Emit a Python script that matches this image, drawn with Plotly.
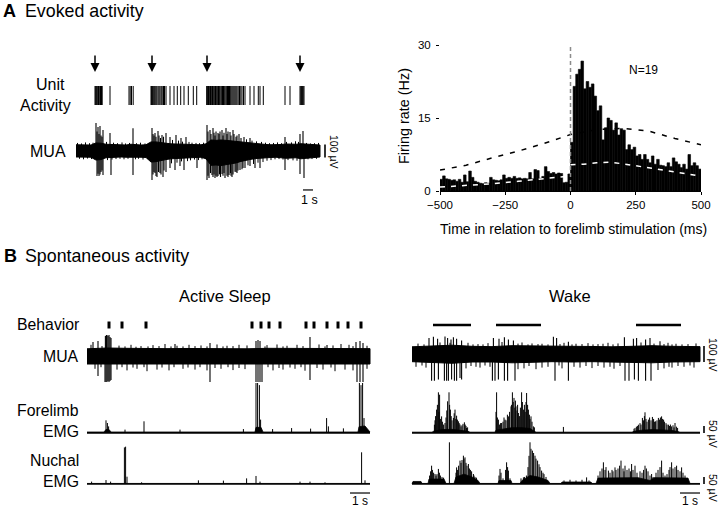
import plotly.graph_objects as go

FONT = "Liberation Sans, Arial, sans-serif"
W, H = 720, 508

# ======================= DATA =======================
# ---- Panel A: evoked activity (time in s, amplitude in uV) ----
stim_times_A = [1.9, 7.6, 13.1, 22.4]
unit_spikes_A = [1.90, 1.97, 2.03, 2.10, 2.18, 2.25, 2.33, 2.45, 2.55, 2.62, 3.40,
                 5.30, 5.42, 5.55, 5.72,
                 7.50, 7.56, 7.64, 7.72, 7.80, 7.88, 7.98, 8.08, 8.20, 8.30, 8.40, 8.52,
                 8.62, 8.75, 8.85, 9.00, 9.40, 9.80, 10.13, 10.47, 10.80, 11.23, 11.73, 12.07,
                 13.07, 13.12, 13.18, 13.25, 13.30, 13.38, 13.45, 13.50, 13.58, 13.65, 13.72,
                 13.80, 13.88, 13.95, 14.02, 14.10, 14.18, 14.25, 14.33, 14.40, 14.50, 14.58,
                 14.65, 14.75, 14.82, 14.90, 15.00, 15.08, 15.15, 15.25, 15.35, 15.42, 15.50,
                 15.60, 15.70, 15.80, 15.90, 16.00, 16.10, 16.22, 16.35, 16.48, 16.60, 16.75,
                 16.90, 17.40, 17.80, 18.23, 18.40, 18.73,
                 20.90, 21.40, 22.40, 22.48, 22.56, 22.64, 22.72, 22.80]
muaA_env_t = [0, 0.5, 1.0, 1.5, 2.0, 2.5, 3.0, 3.5, 4.0, 4.5, 5.0, 5.5, 6.0, 6.5, 7.0, 7.5,
              8.0, 8.5, 9.0, 9.5, 10.0, 10.5, 11.0, 11.5, 12.0, 12.5, 13.0, 13.5, 14.0, 14.5,
              15.0, 15.5, 16.0, 16.5, 17.0, 17.5, 18.0, 18.5, 19.0, 19.5, 20.0, 20.5, 21.0,
              21.5, 22.0, 22.5, 23.0, 23.5, 24.0, 24.4]
muaA_env_top = [48, 46, 48, 46, 62, 60, 52, 50, 46, 48, 46, 52, 48, 46, 48, 70, 70, 64, 58, 55,
                54, 55, 52, 50, 48, 48, 55, 85, 82, 85, 82, 78, 74, 68, 62, 58, 55, 52, 50,
                48, 48, 50, 54, 52, 52, 56, 52, 48, 48, 46]
muaA_env_bot = [46, 48, 46, 48, 70, 66, 52, 50, 48, 46, 48, 52, 48, 48, 50, 85, 82, 76, 66,
                60, 56, 58, 55, 52, 50, 48, 60, 110, 108, 112, 108, 100, 92, 80, 70, 64, 58,
                54, 52, 50, 48, 52, 56, 54, 52, 60, 54, 50, 48, 46]
muaA_spike_t = [2.0, 2.1, 2.2, 2.3, 2.4, 2.5, 2.6, 2.7, 3.4, 5.7, 7.6, 7.7, 7.8, 7.9, 8.0,
                8.2, 8.3, 8.45, 8.6, 8.75, 9.0, 9.4, 10.0, 10.5, 11.0,
                13.1, 13.2, 13.4, 13.5, 13.7, 13.8, 13.9, 14.0, 14.2, 14.3, 14.4, 14.6, 14.7,
                14.8, 15.0, 15.1, 15.2, 15.4, 15.5, 15.7, 15.8, 16.0, 16.1, 16.3, 16.5, 16.8,
                17.4, 20.9, 22.4, 22.7,
                2.1, 2.2, 2.3, 2.4, 2.5, 2.6, 2.7, 3.5, 5.7, 7.6, 7.7, 7.8, 7.9, 8.0, 8.1,
                8.25, 8.4, 8.5, 8.7, 8.8, 9.0, 9.4, 9.9, 10.4, 10.8, 12.1,
                13.1, 13.2, 13.3, 13.45, 13.6, 13.7, 13.8, 13.9, 14.0, 14.1, 14.2, 14.35,
                14.45, 14.6, 14.7, 14.8, 14.9, 15.1, 15.2, 15.3, 15.45, 15.5, 15.6, 15.7,
                15.9, 16.0, 16.1, 16.2, 16.4, 16.6, 16.7, 16.9, 17.4, 17.9, 18.4, 20.9, 22.4,
                22.8]
muaA_spike_amp = [216, 150, 185, 130, 193, 120, 110, 162, 139, 175, 177, 130, 120, 139, 110,
                  154, 120, 100, 123, 110, 139, 108, 123, 100, 108,
                  200, 150, 162, 130, 177, 140, 120, 150, 139, 130, 150, 162, 120, 140, 177,
                  130, 150, 146, 120, 162, 130, 110, 120, 131, 100, 108, 100, 108, 131, 154,
                  -193, -175, -193, -180, -162, -150, -185, -185, -185, -223, -180, -162,
                  -170, -193, -200, -162, -170, -180, -200, -150, -162, -131, -146, -116,
                  -146, -131,
                  -223, -190, -208, -170, -185, -200, -180, -208, -190, -200, -193, -180,
                  -200, -177, -190, -170, -208, -190, -200, -185, -170, -190, -200, -180,
                  -160, -162, -170, -150, -146, -140, -130, -131, -116, -131, -131, -146,
                  -177, -208]
muaA_hair_t = [0.15, 0.55, 0.95, 1.35, 1.7, 3.05, 3.75, 4.15, 4.6, 4.95, 5.35, 6.05, 6.45,
               6.9, 7.3, 9.65, 10.25, 10.65, 11.3, 11.6, 12.0, 12.35, 12.75, 17.05, 17.6,
               18.05, 18.55, 18.95, 19.35, 19.75, 20.15, 20.55, 21.05, 21.55, 21.95, 22.25,
               23.05, 23.45, 23.85, 24.25,
               0.35, 0.75, 1.15, 1.55, 3.15, 3.6, 4.0, 4.4, 4.8, 5.2, 5.95, 6.25, 6.7, 7.15,
               9.55, 10.1, 10.55, 11.15, 11.45, 11.85, 12.25, 12.6, 12.95, 17.2, 17.75, 18.2,
               18.7, 19.1, 19.5, 19.9, 20.3, 20.7, 21.2, 21.7, 22.1, 23.2, 23.6, 24.05]
muaA_hair_amp = [62, 58, 66, 60, 64, 70, 64, 60, 66, 58, 62, 60, 64, 58, 62, 85, 80, 72, 70,
                 64, 62, 60, 64, 90, 80, 74, 70, 64, 60, 62, 66, 60, 70, 66, 75, 70, 62, 58,
                 60, 62,
                 -60, -64, -58, -62, -70, -66, -62, -60, -64, -60, -64, -60, -66, -62, -95,
                 -90, -80, -78, -72, -66, -70, -64, -62, -110, -100, -90, -85, -75, -70, -64,
                 -62, -66, -70, -72, -75, -64, -62, -60]

# ---- Panel A: peri-stimulus histogram (ms, Hz) ----
psth_bin_start = list(range(-500, 500, 10))
psth_rate = [2.4, 3.1, 2.5, 2.4, 2.2, 2.3, 2.0, 2.4, 1.8, 3.3, 1.9, 4.1, 2.8, 2.0, 1.8, 1.6,
             1.5, 1.7, 1.6, 2.8, 2.3, 2.2, 2.1, 2.3, 3.3, 2.6, 2.8, 2.6, 3.0, 2.6, 2.7, 2.5,
             2.6, 2.5, 3.8, 2.5, 4.4, 4.2, 2.6, 3.0, 5.0, 4.0, 3.6, 3.8, 3.5, 3.7, 3.6, 1.7,
             1.8, 3.5,
             10.0, 21.5, 24.0, 25.0, 26.7, 21.0, 22.5, 21.3, 22.0, 19.5, 16.5, 17.5, 10.5,
             13.0, 15.0, 14.5, 12.5, 14.0, 11.5, 12.8, 12.5, 8.5, 9.5, 8.5, 9.0, 7.2, 7.5,
             6.5, 7.5, 6.5, 5.8, 7.2, 5.5, 6.5, 5.3, 5.2, 5.0, 5.8, 5.0, 6.8, 6.0, 5.5, 4.8,
             5.5, 4.5, 7.5, 5.2, 5.8, 5.2, 4.5]
upper_t = [-500, -400, -300, -200, -100, 0, 100, 200, 300, 400, 500]
upper_rate = [4.3, 5.3, 6.8, 8.2, 9.8, 11.6, 12.6, 12.9, 12.3, 10.8, 9.5]
lower_left_t = [-500, -400, -300, -200, -100, 0]
lower_left_rate = [0.8, 1.1, 1.5, 2.0, 2.6, 3.1]
lower_right_t = [0, 50, 100, 150, 200, 250, 300, 350, 400, 450, 500]
lower_right_rate = [5.4, 5.5, 5.8, 5.9, 5.6, 5.2, 4.7, 4.3, 3.9, 3.5, 3.0]
x_ticks_ms = [-500, -250, 0, 250, 500]
y_ticks_hz = [0, 15, 30]

# ---- Panel B: Active sleep ----
as_end = 14.15
as_behavior_t = [1.1, 1.75, 2.95, 8.25, 8.7, 9.1, 9.65, 10.95, 11.35, 12.0, 12.55, 13.05, 13.7]
as_mua_env_t = [0, 1, 2, 3, 4, 5, 6, 7, 8, 9, 10, 11, 12, 13, 14, 14.15]
as_mua_env_top = [45, 50, 48, 45, 46, 47, 45, 46, 45, 48, 47, 46, 48, 47, 46, 46]
as_mua_env_bot = [50, 52, 50, 48, 50, 50, 48, 50, 48, 52, 50, 50, 52, 50, 50, 50]
as_mua_spike_t = [0.3, 0.55, 0.92, 0.97, 1.0, 1.05, 1.1, 1.15, 1.2, 4.4, 6.15, 8.45, 8.55,
                  8.65, 11.15, 12.0, 13.45, 13.65, 13.8,
                  0.55, 0.9, 0.95, 1.0, 1.05, 1.1, 1.15, 1.2, 6.15, 8.45, 8.55, 8.65, 8.75,
                  11.15, 13.5, 13.65, 13.8]
as_mua_spike_amp = [88, 94, 125, 131, 131, 125, 131, 119, 112, 75, 81, 94, 100, 94, 119, 69,
                    88, 94, 81,
                    -125, -162, -162, -162, -156, -162, -156, -150, -162, -162, -162, -162,
                    -162, -150, -162, -162, -162]
as_mua_hair_t = [0.2, 0.75, 1.6, 1.9, 2.2, 2.45, 2.7, 3.05, 3.3, 3.6, 3.9, 4.2, 4.5, 4.8,
                 5.1, 5.4, 5.7, 6.0, 6.5, 6.8, 7.0, 7.3, 7.6, 8.0, 8.9, 9.0, 9.5, 9.8, 10.0,
                 10.5, 10.8, 11.6, 11.9, 12.3, 12.7, 13.1, 13.3, 14.0,
                 0.4, 0.7, 1.5, 1.75, 2.0, 2.3, 2.5, 2.85, 3.0, 3.5, 3.75, 4.1, 4.35, 4.8,
                 5.05, 5.4, 5.65, 6.0, 6.4, 6.7, 7.05, 7.3, 7.6, 7.9, 9.05, 9.3, 9.6, 9.8,
                 10.15, 10.4, 10.7, 10.9, 11.5, 11.8, 12.2, 12.4, 12.9, 13.3, 14.0]
as_mua_hair_amp = [70, 62, 65, 60, 70, 58, 62, 60, 68, 62, 75, 60, 64, 60, 70, 62, 66, 60, 72,
                   60, 64, 62, 70, 66, 60, 68, 72, 60, 64, 70, 62, 72, 60, 66, 75, 70, 62, 64,
                   -80, -70, -85, -70, -90, -72, -80, -70, -95, -85, -72, -90, -70, -80,
                   -72, -85, -70, -90, -75, -80, -70, -88, -75, -82, -70, -90, -75, -85,
                   -72, -80, -70, -92, -75, -85, -72, -95, -85, -90, -80]
as_fore_env_t = [0, 0.85, 0.95, 1.1, 1.2, 8.4, 8.45, 8.7, 8.8, 13.55, 13.6, 13.9, 14.15]
as_fore_env = [7, 7, 25, 25, 7, 7, 40, 40, 7, 7, 45, 50, 7]
as_fore_spike_t = [0.95, 1.02, 1.08, 1.9, 2.85, 4.65, 7.82, 8.45, 8.53, 8.62, 8.68, 9.28,
                   10.23, 11.18, 11.98, 12.07, 12.82, 13.62, 13.7, 13.78, 13.85]
as_fore_spike_amp = [90, 71, 47, 24, 83, 24, 28, 355, 355, 340, 95, 28, 35, 31, 106, 47, 33,
                     355, 340, 355, 106]
as_nuch_spike_t = [0.23, 0.95, 1.18, 1.87, 1.93, 2.0, 2.73, 5.57, 6.82, 7.98, 8.45, 8.65,
                   10.65, 11.15, 11.9, 13.73, 13.9]
as_nuch_spike_amp = [17, 28, 17, 260, 265, 52, 12, 26, 24, 40, 57, 17, 17, 17, 12, 225, 26]

# ---- Panel B: Wake ----
wk_end = 14.4
wk_behavior_on = [1.05, 4.2, 11.2]
wk_behavior_off = [2.95, 6.45, 13.45]
wk_mua_env_t = [0, 1, 2, 3, 4, 5, 6, 7, 8, 9, 10, 11, 12, 13, 14, 14.4]
wk_mua_env_top = [45, 50, 55, 48, 46, 52, 50, 46, 48, 47, 45, 48, 52, 48, 46, 46]
wk_mua_env_bot = [48, 55, 58, 50, 50, 55, 52, 48, 50, 48, 48, 52, 55, 50, 48, 48]
wk_mua_spike_t = [0.98, 1.12, 1.32, 1.62, 1.73, 1.82, 1.98, 2.12, 2.23, 2.40, 2.48, 4.02,
                  4.15, 4.32, 4.62, 4.78, 5.15, 7.15, 7.82, 10.65, 10.85, 11.12, 11.32, 11.68,
                  11.95,
                  0.85, 1.07, 1.28, 1.65, 1.78, 1.95, 2.07, 2.23, 2.48, 4.07, 4.35, 4.62, 4.82,
                  5.07, 7.07, 7.23, 7.82, 10.62, 11.07, 11.23, 11.68, 11.90, 12.40]
wk_mua_spike_amp = [-167, -167, -160, -167, -167, -167, -160, -167, -167, -150, -160, -167,
                    -167, -160, -167, -167, -167, -167, -167, -167, -167, -160, -167, -167,
                    -167,
                    100, 108, 95, 110, 100, 90, 105, 95, 85, 100, 95, 105, 90, 85, 108, 100,
                    77, 105, 95, 100, 90, 100, 80]
wk_mua_hair_t = [0.3, 0.6, 1.4, 1.9, 2.8, 3.05, 3.3, 3.55, 3.8, 4.5, 5.3, 5.5, 5.8, 6.0, 6.3,
                 6.5, 6.8, 7.4, 7.6, 8.0, 8.2, 8.5, 8.8, 9.05, 9.3, 9.55, 9.8, 10.05, 10.3,
                 11.45, 12.1, 12.6, 12.8, 13.0, 13.2, 13.5, 13.8, 14.2,
                 0.2, 0.5, 0.7, 2.7, 2.95, 3.2, 3.4, 3.65, 3.9, 5.3, 5.6, 5.85, 6.2, 6.5, 6.8,
                 7.35, 7.5, 8.1, 8.4, 8.7, 9.0, 9.3, 9.6, 9.9, 10.1, 10.4, 12.3, 12.6, 12.85,
                 13.0, 13.3, 13.6, 13.9, 14.1]
wk_mua_hair_amp = [65, 60, 72, 70, 70, 60, 62, 60, 68, 75, 65, 72, 60, 66, 62, 64, 60, 62,
                   70, 60, 64, 62, 68, 60, 62, 64, 70, 60, 66, 72, 65, 62, 70, 60, 64, 60, 62,
                   66,
                   -80, -72, -85, -90, -75, -80, -85, -72, -80, -95, -90, -75, -95, -85,
                   -80, -72, -90, -80, -85, -75, -88, -75, -85, -80, -92, -75, -100, -90,
                   -80, -85, -75, -80, -72, -85]
wk_fore_env_t = [0, 1.0, 1.1, 1.5, 2.0, 2.5, 2.8, 2.9, 4.15, 4.2, 4.6, 5.0, 5.5, 5.9, 6.1,
                 6.2, 11.0, 11.1, 11.5, 12.0, 12.5, 13.0, 13.3, 13.4, 14.4]
wk_fore_env = [6, 6, 14, 24, 26, 20, 12, 6, 6, 20, 30, 38, 38, 32, 14, 6, 6, 12, 20, 24, 22,
               18, 10, 6, 6]
wk_fore_spike_t = [1.12, 1.15, 1.18, 1.23, 1.27, 1.32, 1.35, 1.38, 1.42, 1.48, 1.52, 1.58,
                   1.65, 1.70, 1.74, 1.78, 1.85, 1.88, 1.92, 1.96, 2.00, 2.07, 2.11, 2.15,
                   2.19, 2.23, 2.27, 2.32, 2.36, 2.40, 2.45, 2.50, 2.55, 2.62, 2.66, 2.70,
                   2.73, 2.78,
                   4.20, 4.23, 4.27, 4.32, 4.38, 4.43, 4.48, 4.55, 4.60, 4.65, 4.70, 4.77,
                   4.82, 4.88, 4.95, 4.98, 5.02, 5.06, 5.10, 5.14, 5.17, 5.20, 5.25, 5.28,
                   5.32, 5.37, 5.42, 5.48, 5.52, 5.58, 5.62, 5.66, 5.70, 5.73, 5.78, 5.82,
                   5.87, 5.90, 5.95, 6.00, 6.07, 6.12, 7.57,
                   11.10, 11.15, 11.22, 11.28, 11.32, 11.40, 11.45, 11.52, 11.58, 11.62,
                   11.65, 11.70, 11.75, 11.82, 11.88, 11.95, 12.02, 12.08, 12.12, 12.18,
                   12.25, 12.32, 12.38, 12.42, 12.48, 12.52, 12.58, 12.62, 12.70, 12.75,
                   12.82, 12.88, 12.92, 12.98, 13.05, 13.10, 13.15, 13.22, 13.28]
wk_fore_spike_amp = [59, 90, 120, 166, 200, 289, 150, 272, 100, 118, 80, 60, 71, 110, 160,
                     225, 289, 200, 166, 120, 90, 107, 140, 166, 100, 123, 95, 83, 70, 60, 47,
                     55, 65, 76, 60, 50, 36, 40,
                     150, 289, 110, 95, 60, 70, 71, 80, 110, 95, 90, 130, 118, 150, 189, 200,
                     289, 220, 249, 180, 230, 189, 160, 200, 142, 120, 180, 289, 220, 166,
                     200, 150, 220, 284, 200, 166, 130, 100, 118, 80, 47, 40, 43,
                     30, 36, 45, 50, 59, 70, 60, 107, 90, 120, 147, 100, 80, 95, 110, 90, 114,
                     100, 80, 83, 90, 107, 95, 110, 118, 100, 95, 80, 70, 60, 59, 50, 60, 47,
                     55, 40, 71, 45, 36]
wk_nuch_env_t = [0, 0.05, 0.45, 0.5, 0.8, 0.85, 1.6, 1.7, 2.1, 2.2, 2.6, 3.0, 3.3, 3.4, 4.3,
                 4.35, 4.95, 5.0, 5.4, 5.5, 5.9, 6.3, 6.8, 6.9, 7.45, 7.5, 8.95, 9.0, 9.2,
                 9.3, 11.3, 11.9, 12.1, 13.8, 13.9, 14.4]
wk_nuch_env = [4, 18, 18, 4, 4, 35, 35, 4, 4, 50, 70, 50, 25, 4, 4, 25, 25, 4, 4, 25, 60, 50,
               25, 4, 4, 14, 14, 4, 4, 42, 45, 25, 45, 42, 4, 4]
wk_nuch_spike_t = [0.88, 0.93, 0.98, 1.02, 1.08, 1.15, 1.20, 1.25, 1.32, 1.37, 1.42, 1.50,
                   1.58, 1.87,
                   2.20, 2.23, 2.28, 2.33, 2.40, 2.45, 2.50, 2.57, 2.60, 2.65, 2.70, 2.75,
                   2.82, 2.87, 2.92, 2.98, 3.07, 3.10, 3.15, 3.22,
                   4.35, 4.40, 4.45, 4.55, 4.68, 4.73, 4.78, 4.82, 4.90,
                   5.45, 5.57, 5.62, 5.72, 5.80, 5.85, 5.90, 5.95, 6.02, 6.08, 6.15, 6.20,
                   6.28, 6.35, 6.40, 6.48, 6.55, 6.60, 6.70,
                   7.60, 7.90, 8.20, 8.50, 8.73, 8.85,
                   9.30, 9.40, 9.50, 9.57, 9.65, 9.70, 9.82, 9.90, 10.00, 10.05, 10.15,
                   10.20, 10.30, 10.38, 10.45, 10.55, 10.60, 10.65, 10.75, 10.85, 10.92,
                   10.98, 11.05, 11.15, 11.25, 11.40, 11.50, 11.58, 11.65, 11.72, 11.80,
                   11.90, 11.98, 12.05, 12.20, 12.30, 12.40, 12.48, 12.55, 12.65, 12.75,
                   12.85, 12.90, 12.98, 13.05, 13.15, 13.23, 13.30, 13.40, 13.48, 13.55,
                   13.65, 13.75]
wk_nuch_spike_amp = [60, 90, 130, 100, 80, 71, 60, 70, 107, 80, 60, 50, 45, 296,
                     80, 118, 100, 130, 166, 150, 170, 201, 180, 189, 150, 130, 142, 110, 100,
                     90, 71, 60, 50, 45,
                     60, 107, 80, 40, 100, 154, 120, 95, 40,
                     40, 47, 50, 60, 120, 200, 296, 250, 237, 220, 201, 180, 166, 140, 120, 95,
                     80, 70, 50,
                     25, 30, 25, 30, 47, 25,
                     60, 90, 110, 154, 100, 120, 95, 80, 100, 90, 118, 100, 110, 130, 166,
                     110, 90, 130, 100, 110, 90, 142, 100, 130, 80, 90, 80, 100, 130, 110, 90,
                     60, 71, 50, 80, 100, 120, 166, 80, 60, 70, 100, 120, 154, 110, 120, 130,
                     100, 90, 118, 80, 60, 40]

scale_mua_uv = 100
scale_emg_uv = 50
scale_time_s = 1

# ======================= GEOMETRY HELPERS =======================
def xd(p0, p1):
    return [p0 / W, p1 / W]


def yd(p0, p1):
    return [1 - p1 / H, 1 - p0 / H]


def xr(p0, p1, zero, ppu):
    return [(p0 - zero) / ppu, (p1 - zero) / ppu]


def yr(p0, p1, zero, ppu):
    return [(zero - p1) / ppu, (zero - p0) / ppu]


def vlines(ts, amps, base=0.0):
    xs, ys = [], []
    for t, a in zip(ts, amps):
        xs += [t, t, None]
        ys += [base, a, None]
    return xs, ys


def band(ts, top, bot):
    return ts + ts[::-1], top + [-b for b in bot[::-1]]


fig = go.Figure()
layout = dict(template="none", width=W, height=H,
              margin=dict(l=0, r=0, t=0, b=0, pad=0, autoexpand=False),
              paper_bgcolor="white", plot_bgcolor="rgba(0,0,0,0)", showlegend=False,
              font=dict(family=FONT, color="black"))

UA = 1 / 7.7      # px per uV, panel A MUA
UB = 1 / 6.25     # px per uV, panel B MUA
UE = 1 / 7.1      # px per uV, EMG
axes = {
    1: (xd(70, 345), xr(70, 345, 76, 10), yd(86, 105), [0, 1]),
    2: (xd(70, 345), xr(70, 345, 76, 10), yd(108, 200), yr(108, 200, 151, UA)),
    4: (xd(85, 375), xr(85, 375, 87, 20), yd(318, 332), [0, 1]),
    5: (xd(85, 375), xr(85, 375, 87, 20), yd(322, 392), yr(322, 392, 356, UB)),
    6: (xd(85, 375), xr(85, 375, 87, 20), yd(372, 440), yr(372, 440, 433, UE)),
    7: (xd(85, 375), xr(85, 375, 87, 20), yd(440, 500), yr(440, 500, 484, UE)),
    8: (xd(405, 718), xr(405, 718, 412, 20), yd(318, 332), [0, 1]),
    9: (xd(405, 718), xr(405, 718, 412, 20), yd(322, 392), yr(322, 392, 354, UB)),
    10: (xd(405, 718), xr(405, 718, 412, 20), yd(372, 440), yr(372, 440, 433, UE)),
    11: (xd(405, 718), xr(405, 718, 412, 20), yd(440, 500), yr(440, 500, 484, UE)),
}
for k, (xdm, xrg, ydm, yrg) in axes.items():
    layout[f"xaxis{k}"] = dict(domain=xdm, range=xrg, visible=False, fixedrange=True,
                               anchor=f"y{k}")
    layout[f"yaxis{k}"] = dict(domain=ydm, range=yrg, visible=False, fixedrange=True,
                               anchor=f"x{k}")

layout["xaxis3"] = dict(domain=xd(440, 701), range=[-500, 500], anchor="y3",
                        tickvals=x_ticks_ms, ticks="outside", ticklen=3, tickwidth=1,
                        tickcolor="black", showline=True, linecolor="black", linewidth=1,
                        showgrid=False, zeroline=False, fixedrange=True,
                        tickfont=dict(size=11.5, family=FONT, color="black"))
layout["yaxis3"] = dict(domain=yd(45, 191), range=[0, 30], anchor="x3",
                        tickvals=y_ticks_hz, ticks="outside", ticklen=3, tickwidth=1,
                        tickcolor="black", showline=False, showgrid=False, zeroline=False,
                        fixedrange=True, ticklabelstandoff=3,
                        tickfont=dict(size=11.5, family=FONT, color="black"))

K = "#000000"


def add_line(xs, ys, ax, width=1.0, color=K, dash=None, fill=None, fillcolor=None):
    fig.add_trace(go.Scatter(x=xs, y=ys, mode="lines", xaxis=f"x{ax}", yaxis=f"y{ax}",
                             line=dict(color=color, width=width, dash=dash),
                             fill=fill, fillcolor=fillcolor, hoverinfo="skip",
                             connectgaps=False))


def add_mua(ax, et, etop, ebot, st, sa, ht, ha):
    bx, by = band(et, etop, ebot)
    add_line(bx, by, ax, width=1.0, fill="toself", fillcolor=K)
    hx, hy = vlines(ht, ha)
    add_line(hx, hy, ax, width=1.0)
    sx, sy = vlines(st, sa)
    add_line(sx, sy, ax, width=1.1)


def add_emg(ax, et, ev, st, sa, end_t):
    add_line(et, ev, ax, width=0.8, fill="tozeroy", fillcolor=K)
    add_line([0, end_t], [0, 0], ax, width=1.6)
    sx, sy = vlines(st, sa)
    add_line(sx, sy, ax, width=1.0)


# ---- Panel A raster + MUA ----
rx, ry = vlines(unit_spikes_A, [1] * len(unit_spikes_A))
add_line(rx, ry, 1, width=1.0)
add_mua(2, muaA_env_t, muaA_env_top, muaA_env_bot, muaA_spike_t, muaA_spike_amp,
        muaA_hair_t, muaA_hair_amp)
tA = muaA_env_t[-1]
add_line([tA + 0.5, tA + 0.5], [-scale_mua_uv / 2, scale_mua_uv / 2], 2, width=1.6)
add_line([tA - 1.7, tA - 1.7 + scale_time_s], [-300, -300], 2, width=1.2)

# ---- PSTH ----
fig.add_trace(go.Bar(x=[b + 5 for b in psth_bin_start], y=psth_rate, width=10,
                     marker=dict(color=K, line=dict(width=0.6, color=K)), xaxis="x3",
                     yaxis="y3", hoverinfo="skip"))
add_line(upper_t, upper_rate, 3, width=1.5, dash="5px,7px")
add_line(lower_left_t, lower_left_rate, 3, width=1.5, color="white", dash="5px,6px")
add_line(lower_right_t, lower_right_rate, 3, width=1.5, color="white", dash="5px,6px")
add_line([0, 0], [0, 30], 3, width=1.5, color="#8c8c8c", dash="4px,3px")

# ---- Active sleep ----
fig.add_trace(go.Scatter(x=as_behavior_t, y=[0.5] * len(as_behavior_t), mode="markers",
                         xaxis="x4", yaxis="y4", hoverinfo="skip",
                         marker=dict(symbol="line-ns", size=5, color=K,
                                     line=dict(width=3, color=K))))
add_mua(5, as_mua_env_t, as_mua_env_top, as_mua_env_bot, as_mua_spike_t, as_mua_spike_amp,
        as_mua_hair_t, as_mua_hair_amp)
add_emg(6, as_fore_env_t, as_fore_env, as_fore_spike_t, as_fore_spike_amp, as_end)
add_emg(7, [0, as_end], [4, 4], as_nuch_spike_t, as_nuch_spike_amp, as_end)
add_line([as_end - scale_time_s, as_end], [-64, -64], 7, width=1.2)

# ---- Wake ----
bxs, bys = [], []
for a, b in zip(wk_behavior_on, wk_behavior_off):
    bxs += [a, b, None]
    bys += [0.5, 0.5, None]
add_line(bxs, bys, 8, width=2.5)
add_mua(9, wk_mua_env_t, wk_mua_env_top, wk_mua_env_bot, wk_mua_spike_t, wk_mua_spike_amp,
        wk_mua_hair_t, wk_mua_hair_amp)
add_emg(10, wk_fore_env_t, wk_fore_env, wk_fore_spike_t, wk_fore_spike_amp, wk_end)
add_emg(11, wk_nuch_env_t, wk_nuch_env, wk_nuch_spike_t, wk_nuch_spike_amp, wk_end)
add_line([wk_end + 0.2, wk_end + 0.2], [-scale_mua_uv / 2, scale_mua_uv / 2], 9, width=1.6)
add_line([wk_end + 0.2, wk_end + 0.2], [0, scale_emg_uv], 10, width=1.6)
add_line([wk_end + 0.2, wk_end + 0.2], [0, scale_emg_uv], 11, width=1.6)
add_line([wk_end - scale_time_s, wk_end], [-64, -64], 11, width=1.2)


# ======================= TEXT =======================
def ann(text, px, py, size, xanchor="center", yanchor="middle", angle=0):
    return dict(text=text, x=px / W, y=1 - py / H, xref="paper", yref="paper",
                showarrow=False, xanchor=xanchor, yanchor=yanchor, textangle=angle,
                font=dict(size=size, family=FONT, color="black"))


annotations = [
    ann("<b>A</b>", 1, 11, 18, xanchor="left"),
    ann("Evoked activity", 23, 11, 17.8, xanchor="left"),
    ann("Unit", 67, 95, 16, xanchor="right", yanchor="bottom"),
    ann("Activity", 73, 95, 16, xanchor="right", yanchor="top"),
    ann("MUA", 68, 151, 16, xanchor="right"),
    ann("100 µV", 334, 152, 10.5, angle=90),
    ann("1 s", 309, 200, 12.5),
    ann("Firing rate (Hz)", 404, 116, 14.4, angle=-90),
    ann("Time in relation to forelimb stimulation (ms)", 573, 229, 14),
    ann("N=19", 643, 70, 12),
    ann("<b>B</b>", 2, 256, 18, xanchor="left"),
    ann("Spontaneous activity", 23, 256, 17.8, xanchor="left"),
    ann("Active Sleep", 225, 296, 16.5),
    ann("Wake", 570, 296, 16.5),
    ann("Behavior", 81, 324, 15.8, xanchor="right"),
    ann("MUA", 81, 356, 15.8, xanchor="right"),
    ann("Forelimb", 81, 421, 15.8, xanchor="right", yanchor="bottom"),
    ann("EMG", 81, 421, 15.8, xanchor="right", yanchor="top"),
    ann("Nuchal", 81, 471, 15.8, xanchor="right", yanchor="bottom"),
    ann("EMG", 81, 471, 15.8, xanchor="right", yanchor="top"),
    ann("1 s", 360, 501, 12),
    ann("1 s", 690, 501, 12),
    ann("100 µV", 713, 355, 10.5, angle=90),
    ann("50 µV", 713, 434, 10.5, angle=90),
    ann("50 µV", 713, 488, 10.5, angle=90),
]
for t in stim_times_A:
    annotations.append(dict(text="", x=t, xref="x2", y=1 - 72 / H, yref="paper",
                            showarrow=True, ax=0, ay=-18, arrowhead=2, arrowsize=1.2,
                            arrowwidth=1.5, arrowcolor="black"))
layout["annotations"] = annotations
fig.update_layout(**layout)
fig.write_html("out.html",
               config={"displayModeBar": False, "staticPlot": True},
               post_script="document.body.style.margin='0px';"
                           "document.body.style.padding='0px';"
                           "document.body.style.overflow='hidden';")
